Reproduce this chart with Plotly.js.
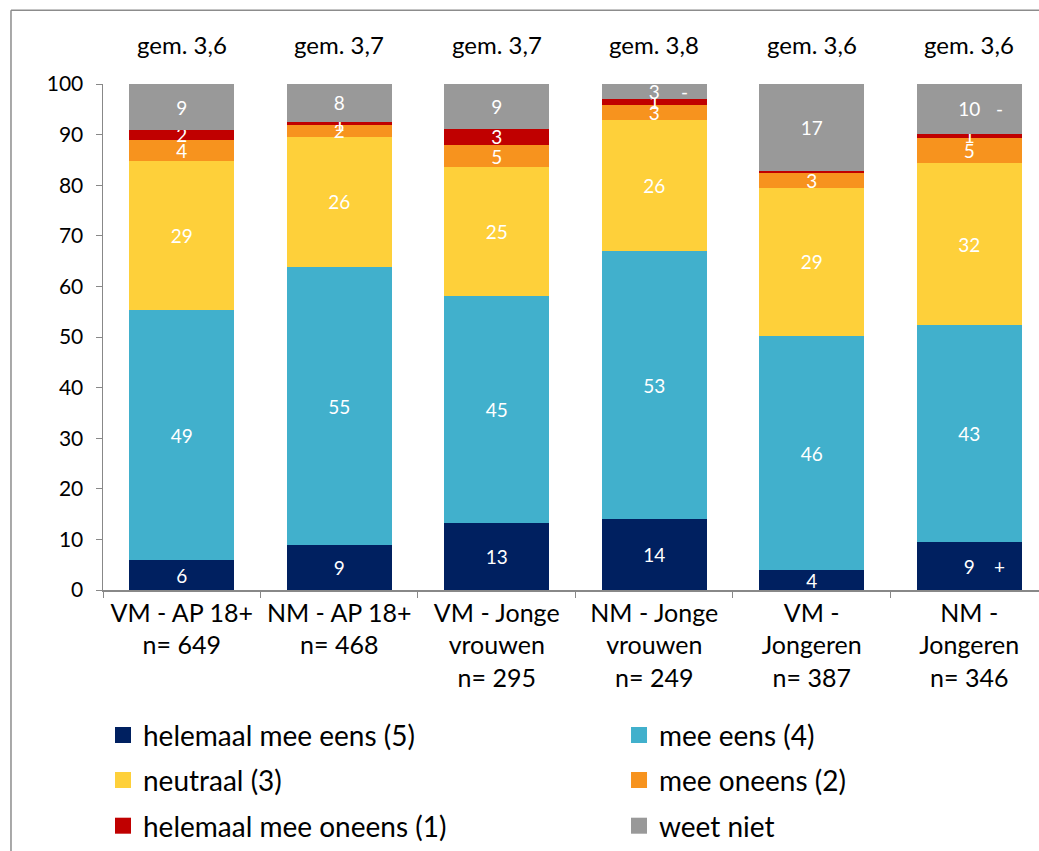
<!DOCTYPE html>
<html>
<head>
<meta charset="utf-8">
<script src="https://cdn.plot.ly/plotly-3.0.1.min.js"></script>
<style>
html,body{margin:0;padding:0;overflow:hidden;background:#fff;}
#chart{width:1039px;height:851px;}
</style>
</head>
<body>
<div id="chart"></div>
<script>
// ---- data ----
const categories = [
  "VM - AP 18+<br>n= 649",
  "NM - AP 18+<br>n= 468",
  "VM - Jonge<br>vrouwen<br>n= 295",
  "NM - Jonge<br>vrouwen<br>n= 249",
  "VM -<br>Jongeren<br>n= 387",
  "NM -<br>Jongeren<br>n= 346"
];
const averages = ["gem. 3,6", "gem. 3,7", "gem. 3,7", "gem. 3,8", "gem. 3,6", "gem. 3,6"];
const seriesNames = ["helemaal mee eens (5)", "mee eens (4)", "neutraal (3)", "mee oneens (2)", "helemaal mee oneens (1)", "weet niet"];
const helemaalMeeEens = [5.9, 8.9, 13.2, 14.0, 3.9, 9.4];
const meeEens         = [49.4, 54.9, 44.9, 52.9, 46.3, 43.0];
const neutraal        = [29.5, 25.8, 25.4, 26.0, 29.3, 31.9];
const meeOneens       = [4.2, 2.3, 4.5, 3.0, 2.9, 5.1];
const helemaalOneens  = [1.9, 0.6, 3.1, 1.1, 0.4, 0.8];
const weetNiet        = [9.1, 7.5, 8.9, 3.0, 17.2, 9.8];
const shownLabels = [
  ["6", "9", "13", "14", "4", "9"],
  ["49", "55", "45", "53", "46", "43"],
  ["29", "26", "25", "26", "29", "32"],
  ["4", "2", "5", "3", "3", "5"],
  ["2", "1", "3", "1", "", "1"],
  ["9", "8", "9", "3", "17", "10"]
];
const significance = [
  ["", "", "", "", "", "+"],
  ["", "", "", "", "", ""],
  ["", "", "", "", "", ""],
  ["", "", "", "", "", ""],
  ["", "", "", "", "", ""],
  ["", "", "", "-", "", "-"]
];
const colors = ["#002060", "#41B0CC", "#FED03A", "#F7931E", "#C00000", "#999999"];

// ---- build ----
const FONT = "Lato, 'Open Sans', sans-serif";
const series = [helemaalMeeEens, meeEens, neutraal, meeOneens, helemaalOneens, weetNiet];
const traces = [];
series.forEach((vals, i) => {
  traces.push({
    type: "bar", x: categories, y: vals, name: seriesNames[i], showlegend: false,
    marker: {color: colors[i], line: {width: 0}},
    text: shownLabels[i], textposition: "inside", insidetextanchor: "middle",
    textangle: 0, constraintext: "none",
    insidetextfont: {family: FONT, size: 19, color: "#ffffff"},
    hoverinfo: "skip"
  });
});
const legendIds = ["legend", "legend2", "legend3", "legend4", "legend5", "legend6"];
seriesNames.forEach((n, i) => {
  traces.push({
    type: "scatter", mode: "markers", x: [null], y: [null], name: n,
    marker: {symbol: "square", size: 16, color: colors[i]},
    legend: legendIds[i], hoverinfo: "skip"
  });
});

const annotations = [];
categories.forEach((c, j) => {
  annotations.push({x: c, y: 1.0787, xref: "x", yref: "paper", text: averages[j], showarrow: false,
    font: {family: FONT, size: 24, color: "#000"}, yanchor: "middle"});
});
series.forEach((vals, i) => {
  vals.forEach((v, j) => {
    if (significance[i][j]) {
      let base = 0;
      for (let k = 0; k < i; k++) base += series[k][j];
      annotations.push({x: categories[j], y: base + v / 2, xref: "x", yref: "y", text: significance[i][j],
        showarrow: false, xshift: 30, font: {family: FONT, size: 19, color: "#ffffff"}});
    }
  });
});

function leg(x, y) {
  return {orientation: "v", xanchor: "left", yanchor: "middle", x: x, y: y,
    font: {family: FONT, size: 28, color: "#000"}, bgcolor: "rgba(0,0,0,0)", borderwidth: 0};
}
const colX = [0.0, 0.5513];
const rowY = [-0.2874, -0.376, -0.4665];

const layout = {
  width: 1039, height: 851,
  margin: {l: 103, r: 0, t: 84, b: 259},
  paper_bgcolor: "#ffffff", plot_bgcolor: "#ffffff",
  barmode: "stack", bargap: 0.333,
  font: {family: FONT, color: "#000"},
  xaxis: {type: "category", range: [-0.5, 5.443], tickson: "boundaries", ticks: "outside", ticklen: 6, tickcolor: "#888888",
    showline: true, linecolor: "#888888", linewidth: 1.5, showgrid: false,
    tickfont: {family: FONT, size: 25, color: "#000"}, fixedrange: true},
  yaxis: {range: [0, 100], dtick: 10, ticks: "outside", ticklen: 6, tickcolor: "#888888",
    showline: true, linecolor: "#888888", linewidth: 1.5, showgrid: false, zeroline: false,
    tickfont: {family: FONT, size: 21, color: "#000"}, ticklabelstandoff: 8, fixedrange: true},
  legend:  leg(colX[0], rowY[0]),
  legend2: leg(colX[1], rowY[0]),
  legend3: leg(colX[0], rowY[1]),
  legend4: leg(colX[1], rowY[1]),
  legend5: leg(colX[0], rowY[2]),
  legend6: leg(colX[1], rowY[2]),
  annotations: annotations,
  shapes: [
    {type: "line", xref: "paper", yref: "paper", x0: -0.0983, x1: 1.05, y0: 1.1457, y1: 1.1457,
      line: {color: "#8c8c8c", width: 1.5}},
    {type: "line", xref: "paper", yref: "paper", x0: -0.0983, x1: -0.0983, y0: 1.1457, y1: -0.7,
      line: {color: "#8c8c8c", width: 1.5}}
  ]
};

Plotly.newPlot("chart", traces, layout, {displayModeBar: false, staticPlot: true});
</script>
</body>
</html>
